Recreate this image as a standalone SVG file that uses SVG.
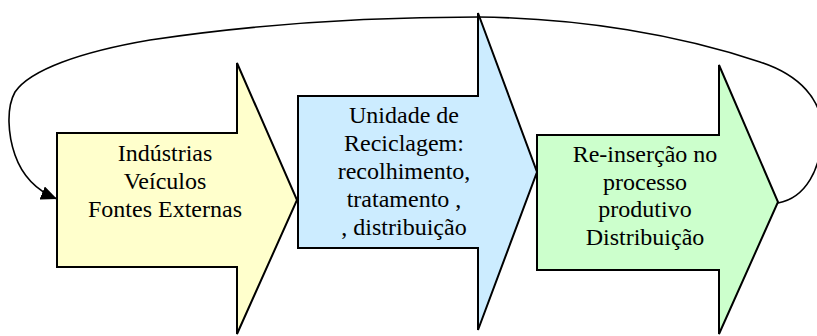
<svg xmlns="http://www.w3.org/2000/svg" width="817" height="336" viewBox="0 0 817 336">
<style>
.arrow{stroke:#000;stroke-width:2;stroke-linejoin:miter}
.conn{fill:none;stroke:#000;stroke-width:1.6}
</style>
<defs>
<marker id="ah" viewBox="0 0 16 14" refX="16" refY="7" markerWidth="16" markerHeight="14" markerUnits="userSpaceOnUse" orient="auto">
<path d="M0,0 L16,7 L0,14 Z" fill="#000"/>
</marker>
</defs>
<g id="node-industrias">
<polygon class="arrow" fill="#FFFFCC" points="57,133 237,133 237,63 297,200 237,334 237,267 57,267"/>
<text font-family="Liberation Serif" font-size="24" text-anchor="middle" x="165" y="161">Indústrias</text>
<text font-family="Liberation Serif" font-size="24" text-anchor="middle" x="165" y="189">Veículos</text>
<text font-family="Liberation Serif" font-size="24" text-anchor="middle" x="165" y="217">Fontes Externas</text>
</g>
<g id="node-reciclagem">
<polygon class="arrow" fill="#CCECFF" points="298,96 478,96 478,13 537,172 478,330 478,248 298,248"/>
<text font-family="Liberation Serif" font-size="24" text-anchor="middle" x="404" y="123">Unidade de</text>
<text font-family="Liberation Serif" font-size="24" text-anchor="middle" x="404" y="151">Reciclagem:</text>
<text font-family="Liberation Serif" font-size="24" text-anchor="middle" x="404" y="179">recolhimento,</text>
<text font-family="Liberation Serif" font-size="24" text-anchor="middle" x="404" y="207">tratamento ,</text>
<text font-family="Liberation Serif" font-size="24" text-anchor="middle" x="404" y="235">, distribuição</text>
</g>
<g id="node-reinsercao">
<polygon class="arrow" fill="#CCFFCC" points="537,135 719,135 719,65 778,202 719,334 719,270 537,270"/>
<text font-family="Liberation Serif" font-size="24" text-anchor="middle" x="645" y="162">Re-inserção no</text>
<text font-family="Liberation Serif" font-size="24" text-anchor="middle" x="645" y="190">processo</text>
<text font-family="Liberation Serif" font-size="24" text-anchor="middle" x="645" y="217">produtivo</text>
<text font-family="Liberation Serif" font-size="24" text-anchor="middle" x="645" y="245">Distribuição</text>
</g>
<g id="connectors">
<path class="conn" marker-end="url(#ah)" d="M778,203 C805,198 822,170 822,130 C822,100 800,75 760,62 C680,35 580,18 478,17 C360,17 250,25 150,40 C80,52 30,70 15,92 C6,108 8,135 15,155 C22,175 35,190 57,199"/>
</g>
</svg>
